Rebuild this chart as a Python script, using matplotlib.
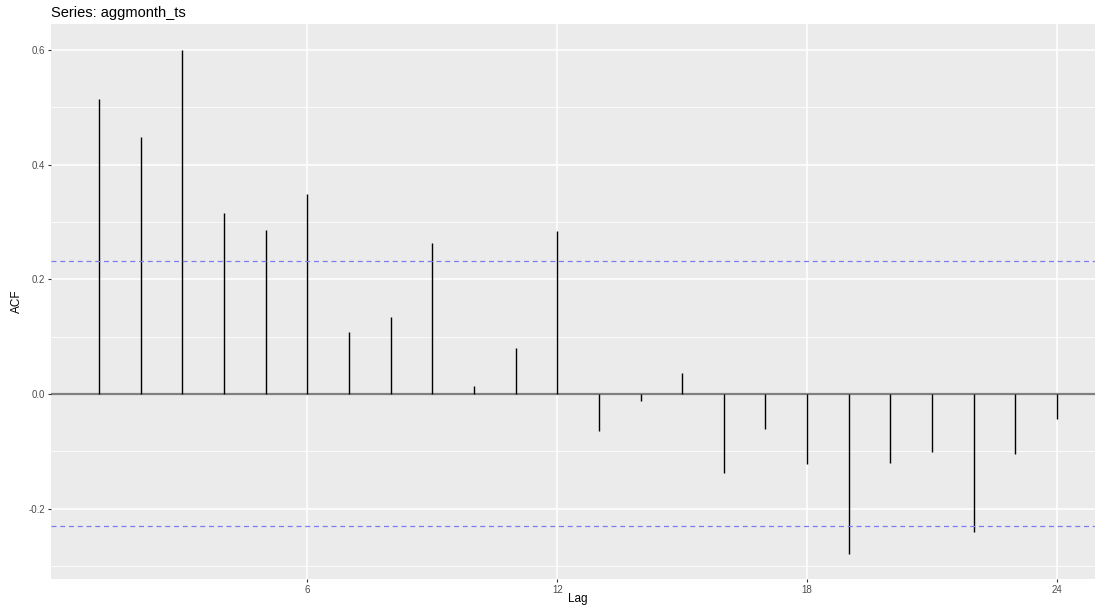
import numpy as np
import matplotlib
matplotlib.use("Agg")
import matplotlib.pyplot as plt

# ACF values
lags = list(range(1, 25))
acf = [0.514, 0.448, 0.600, 0.316, 0.286, 0.349, 0.108, 0.134, 0.263, 0.014,
       0.080, 0.284, -0.065, -0.012, 0.036, -0.138, -0.062, -0.123, -0.279,
       -0.120, -0.102, -0.241, -0.105, -0.043]
ci = 0.231
xticks = [6, 12, 18, 24]
yticks = [-0.2, 0.0, 0.2, 0.4, 0.6]
ytick_labels = ["-0.2", "0.0", "0.2", "0.4", "0.6"]

plt.rcParams['font.family'] = ['Liberation Sans', 'DejaVu Sans']

W, H = 1095, 605
fig = plt.figure(figsize=(W / 100, H / 100), dpi=100)
ax = fig.add_axes([51 / W, (H - 579) / H, (W - 51) / W, (579 - 24) / H])
ax.set_facecolor('#EBEBEB')

# grid
for y in [-0.3, -0.1, 0.1, 0.3, 0.5]:
    ax.axhline(y, color='white', lw=0.55, zorder=0)
for y in yticks:
    ax.axhline(y, color='white', lw=1.1, zorder=0)
for x in xticks:
    ax.axvline(x, color='white', lw=1.1, zorder=0)

ax.axhline(0, color='#7F7F7F', lw=1.6, zorder=1)
ax.vlines(lags, 0, acf, color='black', lw=1.0, zorder=2)
ax.axhline(ci, color='#7C7CF0', lw=0.9, ls=(0, (4, 3)), zorder=2)
ax.axhline(-ci, color='#7C7CF0', lw=0.9, ls=(0, (4, 3)), zorder=2)

ax.set_xlim(-0.152, 24.91)
ax.set_ylim(-0.3227, 0.645)
ax.set_xticks(xticks)
ax.set_yticks(yticks)
ax.set_yticklabels(ytick_labels)
ax.tick_params(length=2.5, width=0.8, color='#333333', labelcolor='#4D4D4D',
               labelsize=7, pad=2)
for s in ax.spines.values():
    s.set_visible(False)

ax.set_ylabel('ACF', fontsize=8.5, labelpad=4)
fig.text(578 / W, 1 - 599 / H, 'Lag', fontsize=8.5,
         va='center', ha='center')
fig.text(51 / W, 1 - 13 / H, 'Series: aggmonth_ts', fontsize=10.5,
         va='center', ha='left')

fig.savefig('out.png', dpi=100)
